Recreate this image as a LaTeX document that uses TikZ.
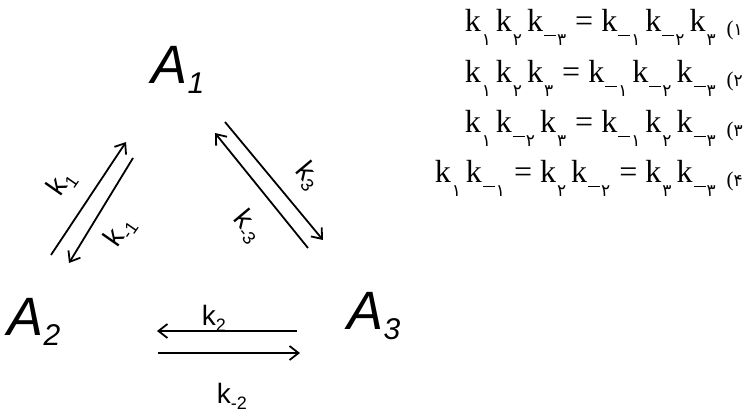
\documentclass[tikz,border=0pt]{standalone}
\usepackage{fontspec}
\setmainfont{Liberation Serif}
\newfontfamily\hand{Liberation Sans}
\newfontfamily\fa{DejaVu Sans}
\usetikzlibrary{arrows.meta}
\newcommand{\pd}[1]{{\fa\fontsize{17}{17}\selectfont #1}}
\newcommand{\kx}[1]{k\hspace{1pt}\raisebox{-14pt}{\pd{#1}}\hspace{5pt}}
\newcommand{\km}[1]{k\hspace{1pt}\rule[-5pt]{12pt}{1.3pt}\hspace{1pt}\raisebox{-14pt}{\pd{#1}}\hspace{5pt}}
\newcommand{\eqs}{\hspace{4pt}=\hspace{8pt}}
\newcommand{\eqn}[1]{\hspace{6pt}\raisebox{-4pt}{\fontsize{21}{21}\selectfont(\pd{#1}}}
\newcommand{\hs}[1]{\raisebox{-10pt}{\fontsize{30}{30}\selectfont #1}}
\newcommand{\rs}[1]{\raisebox{-6pt}{\fontsize{18}{18}\selectfont #1}}
\begin{document}
\begin{tikzpicture}[x=1pt,y=-1pt,
  eq/.style={anchor=base east,inner sep=0pt,font=\fontsize{32}{32}\selectfont},
  species/.style={inner sep=0pt,font=\hand\itshape\fontsize{54}{54}\selectfont},
  rate/.style={inner sep=0pt,font=\hand\fontsize{28}{28}\selectfont},
  rx/.style={line width=1.8pt,-{Straight Barb[length=9pt,width=14pt,line width=1.8pt]}}]
\useasboundingbox (0,0) rectangle (745,415);
% equations
\node[eq] (e1) at (743,31) {\kx{۱}\kx{۲}\km{۳}\eqs\km{۱}\km{۲}\kx{۳}\eqn{۱}};
\node[eq] (e2) at (743,82) {\kx{۱}\kx{۲}\kx{۳}\eqs\km{۱}\km{۲}\km{۳}\eqn{۲}};
\node[eq] (e3) at (743,132) {\kx{۱}\km{۲}\kx{۳}\eqs\km{۱}\kx{۲}\km{۳}\eqn{۳}};
\node[eq] (e4) at (743,182) {\kx{۱}\km{۱}\eqs\kx{۲}\km{۲}\eqs\kx{۳}\km{۳}\eqn{۴}};
% species
\node[species] (A1) at (178,70) {A\hs{1}};
\node[species] (A2) at (34,322) {A\hs{2}};
\node[species] (A3) at (374,316) {A\hs{3}};
% arrow end points
\coordinate (l1s) at (51,255); \coordinate (l1e) at (126,142);
\coordinate (l2s) at (133,158); \coordinate (l2e) at (69,263);
\coordinate (r1s) at (225,122); \coordinate (r1e) at (323,240);
\coordinate (r2s) at (308,248); \coordinate (r2e) at (215,133);
\coordinate (b1s) at (297,331); \coordinate (b1e) at (157,331);
\coordinate (b2s) at (158,353); \coordinate (b2e) at (300,353);
\draw[rx] (l1s) -- (l1e);
\draw[rx] (l2s) -- (l2e);
\draw[rx] (r1s) -- (r1e);
\draw[rx] (r2s) -- (r2e);
\draw[rx] (b1s) -- (b1e);
\draw[rx] (b2s) -- (b2e);
% rate labels
\node[rate,rotate=55] (k1) at (62,184) {k\rs{1}};
\node[rate,rotate=55] (km1) at (120,232) {k\rs{-1}};
\node[rate,rotate=-50] (k3) at (308,176) {k\rs{3}};
\node[rate,rotate=-50] (km3) at (248,226) {k\rs{-3}};
\node[rate] (k2) at (214,318) {k\rs{2}};
\node[rate] (km2) at (232,396) {k\rs{-2}};
\end{tikzpicture}
\end{document}
